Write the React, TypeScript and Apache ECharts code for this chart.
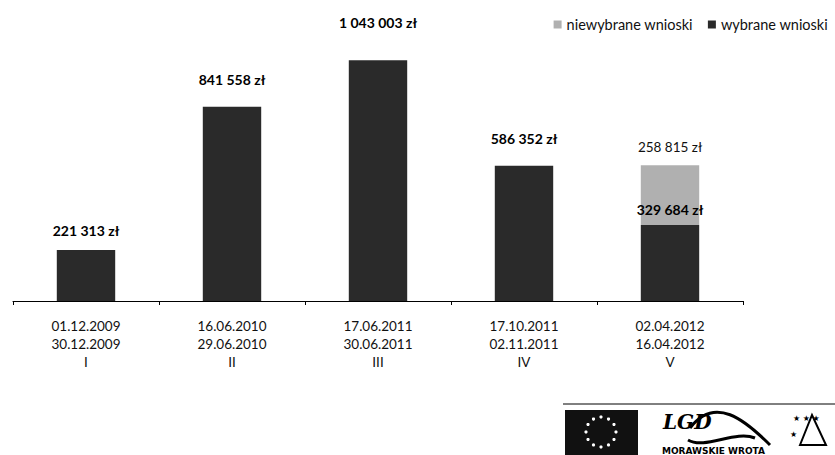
import React, { useEffect, useRef } from "react";
import * as echarts from "echarts";

const startDates = ["01.12.2009", "16.06.2010", "17.06.2011", "17.10.2011", "02.04.2012"];
const endDates = ["30.12.2009", "29.06.2010", "30.06.2011", "02.11.2011", "16.04.2012"];
const romans = ["I", "II", "III", "IV", "V"];
const wybrane = [221313, 841558, 1043003, 586352, 329684];
const niewybrane = [null, null, null, null, 258815];
const wybraneLabelGap = [12, 20, 31, 20, 8];

const FONT = "Lato, 'Open Sans', sans-serif";

function fmt(v: number): string {
  return String(v).replace(/\B(?=(\d{3})+(?!\d))/g, " ") + " zł";
}

export default function App() {
  const ref = useRef<HTMLDivElement>(null);
  useEffect(() => {
    if (!ref.current) return;
    const chart = echarts.init(ref.current, null, { renderer: "svg" });
    const cats = startDates.map((s, i) => `${s}\n${endDates[i]}\n${romans[i]}`);
    const stars: any[] = [];
    for (let i = 0; i < 12; i++) {
      const a = (i / 12) * Math.PI * 2;
      stars.push({
        type: "circle",
        shape: { cx: 601 + Math.cos(a) * 15, cy: 432 + Math.sin(a) * 15, r: 1.6 },
        style: { fill: "#fff" },
      });
    }
    chart.setOption({
      animation: false,
      textStyle: { fontFamily: FONT },
      legend: {
        right: 2,
        top: 12,
        itemWidth: 8,
        itemHeight: 8,
        itemGap: 15,
        textStyle: { fontSize: 14.5, color: "#111", fontFamily: FONT },
        data: [
          { name: "niewybrane wnioski", icon: "rect" },
          { name: "wybrane wnioski", icon: "rect" },
        ],
      },
      grid: { left: 13, right: 92, top: 24, bottom: 154, containLabel: false },
      xAxis: {
        type: "category",
        data: cats,
        axisLine: { lineStyle: { color: "#000", width: 1 } },
        axisTick: { show: true, length: 4, lineStyle: { color: "#000" } },
        axisLabel: {
          interval: 0,
          margin: 16,
          fontSize: 13.5,
          lineHeight: 18,
          color: "#111",
          fontFamily: FONT,
        },
      },
      yAxis: { type: "value", min: 0, max: 1200000, show: false, splitLine: { show: false } },
      series: [
        {
          name: "wybrane wnioski",
          type: "bar",
          stack: "s",
          barWidth: "40%",
          itemStyle: { color: "#2a2a2a" },
          data: wybrane.map((v, i) => ({
            value: v,
            label: {
              show: true,
              position: "top",
              distance: wybraneLabelGap[i],
              formatter: () => fmt(v),
              fontWeight: "bold",
              fontSize: 14,
              color: "#000",
              fontFamily: FONT,
            },
          })),
          z: 3,
        },
        {
          name: "niewybrane wnioski",
          type: "bar",
          stack: "s",
          barWidth: "40%",
          itemStyle: { color: "#b0b0b0" },
          label: {
            show: true,
            position: "top",
            distance: 11,
            formatter: (p: any) => (p.value == null ? "" : fmt(p.value)),
            fontSize: 13.5,
            color: "#111",
            fontFamily: FONT,
          },
          data: niewybrane,
          z: 2,
        },
      ],
      graphic: [
        { type: "line", shape: { x1: 563, y1: 404, x2: 835, y2: 404 }, style: { stroke: "#000", lineWidth: 1 } },
        { type: "rect", shape: { x: 565, y: 410, width: 73, height: 45 }, style: { fill: "#111" } },
        ...stars,
        { type: "text", x: 663, y: 412, style: { text: "LGD", font: "italic bold 20px 'DejaVu Serif', serif", fill: "#000" } },
        {
          type: "bezierCurve",
          shape: { x1: 690, y1: 428, x2: 770, y2: 445, cpx1: 715, cpy1: 395, cpx2: 745, cpy2: 420 },
          style: { stroke: "#000", lineWidth: 3, fill: null },
        },
        {
          type: "bezierCurve",
          shape: { x1: 688, y1: 440, x2: 755, y2: 438, cpx1: 705, cpy1: 450, cpx2: 735, cpy2: 430 },
          style: { stroke: "#000", lineWidth: 3, fill: null },
        },
        { type: "text", x: 662, y: 446, style: { text: "MORAWSKIE WROTA", font: "bold 9px 'DejaVu Sans', sans-serif", fill: "#000" } },
        { type: "polygon", shape: { points: [[800, 445], [812, 415], [826, 445]] }, style: { fill: null, stroke: "#000", lineWidth: 2 } },
        { type: "text", x: 793, y: 414, style: { text: "★ ★ ★", font: "8px 'DejaVu Sans', sans-serif", fill: "#000" } },
        { type: "text", x: 790, y: 430, style: { text: "★", font: "8px 'DejaVu Sans', sans-serif", fill: "#000" } },
      ],
    });
    return () => chart.dispose();
  }, []);
  return <div ref={ref} style={{ position: "absolute", left: 0, top: 0, width: 835, height: 455 }} />;
}
